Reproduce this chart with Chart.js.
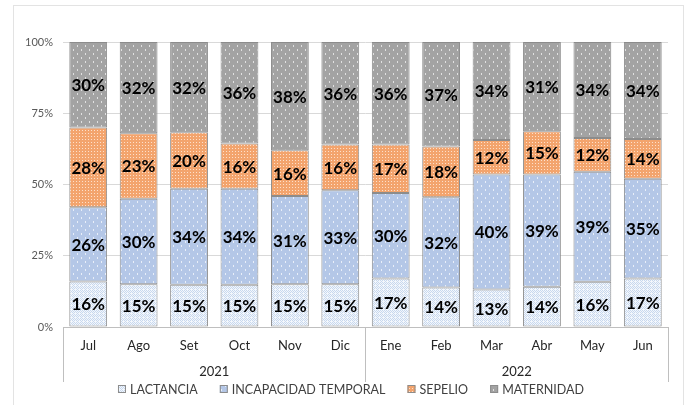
<!DOCTYPE html>
<html>
<head>
<meta charset="utf-8">
<script src="https://cdn.jsdelivr.net/npm/chart.js@4"></script>
<style>
  html, body { margin: 0; padding: 0; background: #fff; }
  #wrap { width: 689px; height: 405px; position: relative; }
</style>
</head>
<body>
<div id="wrap"><canvas id="chart" width="689" height="405"></canvas></div>
<script>
"use strict";

// months and year groups
const months = ['Jul', 'Ago', 'Set', 'Oct', 'Nov', 'Dic', 'Ene', 'Feb', 'Mar', 'Abr', 'May', 'Jun'];
const years = [
    { label: '2021', from: 0, to: 5 },
    { label: '2022', from: 6, to: 11 }
];

// shares in % (as printed on the bars)
const lactancia    = [16, 15, 15, 15, 15, 15, 17, 14, 13, 14, 16, 17];
const incapacidad  = [26, 30, 34, 34, 31, 33, 30, 32, 40, 39, 39, 35];
const sepelio      = [28, 23, 20, 16, 16, 16, 17, 18, 12, 15, 12, 14];
const maternidad   = [30, 32, 32, 36, 38, 36, 36, 37, 34, 31, 34, 34];

const seriesNames = ['LACTANCIA', 'INCAPACIDAD TEMPORAL', 'SEPELIO', 'MATERNIDAD'];

// little tiled patterns like the excel fills
const makePattern = (size, base, dots, dotColor) => {
    const c = document.createElement('canvas');
    c.width = size; c.height = size;
    const g = c.getContext('2d');
    g.fillStyle = base;
    g.fillRect(0, 0, size, size);
    g.fillStyle = dotColor;
    dots.forEach(d => g.fillRect(d[0], d[1], d[2] || 1, d[3] || 1));
    return g.createPattern(c, 'repeat');
};

const patLact = makePattern(4, '#f3f7fc', [[0, 0], [2, 0], [1, 1], [0, 2], [2, 2], [3, 3], [1, 3]], '#c8d8ee');
const patIncap = makePattern(8, '#b4c7e7', [[1, 1, 1, 2], [5, 5, 1, 2]], '#e8eef8');
const patSep = makePattern(3, '#f3a46d', [[1, 1]], '#fde0cb');
const patMat = makePattern(8, '#a3a3a3', [[1, 1, 1, 2], [5, 5, 1, 2]], '#e0e0e0');
const fills = [patLact, patIncap, patSep, patMat];
const raw = [lactancia, incapacidad, sepelio, maternidad];

// normalise each month to 100 so rounded shares still fill the bar
const totals = months.map((m, i) => raw.reduce((s, arr) => s + arr[i], 0));
const norm = arr => arr.map((v, i) => v * 100 / totals[i]);

const FONT = 'Lato, "Open Sans", sans-serif';

const extras = {
    id: 'extras',
    beforeDraw(chart) {
        const ctx = chart.ctx;
        ctx.save();
        ctx.strokeStyle = '#e3e3e3';
        ctx.lineWidth = 1;
        ctx.strokeRect(13.5, 5.5, 670, 420);
        ctx.restore();
    },
    afterDatasetsDraw(chart) {
        const ctx = chart.ctx;
        ctx.save();
        ctx.font = 'bold 17px ' + FONT;
        ctx.fillStyle = '#000';
        ctx.textAlign = 'center';
        ctx.textBaseline = 'middle';
        chart.data.datasets.forEach((ds, di) => {
            chart.getDatasetMeta(di).data.forEach((bar, i) => {
                ctx.fillText(raw[di][i] + '%', bar.x, (bar.y + bar.base) / 2 + 1);
            });
        });
        ctx.restore();
    },
    afterDraw(chart) {
        const ctx = chart.ctx;
        const x = chart.scales.x;
        const area = chart.chartArea;
        const half = (x.getPixelForValue(1) - x.getPixelForValue(0)) / 2;
        ctx.save();
        // group separators
        ctx.strokeStyle = '#bfbfbf';
        ctx.lineWidth = 1;
        const seps = [x.getPixelForValue(0) - half];
        years.forEach(y => seps.push(x.getPixelForValue(y.to) + half));
        seps.forEach(px => {
            ctx.beginPath();
            ctx.moveTo(Math.round(px) + 0.5, area.bottom);
            ctx.lineTo(Math.round(px) + 0.5, area.bottom + 55);
            ctx.stroke();
        });
        // year labels
        ctx.font = '13px ' + FONT;
        ctx.fillStyle = '#262626';
        ctx.textAlign = 'center';
        ctx.textBaseline = 'middle';
        years.forEach(y => {
            const cx = (x.getPixelForValue(y.from) + x.getPixelForValue(y.to)) / 2;
            ctx.fillText(y.label, cx, area.bottom + 45);
        });
        // legend
        ctx.font = '12.5px ' + FONT;
        ctx.textAlign = 'left';
        const box = 8, gapTxt = 4, gapItem = 22;
        const widths = seriesNames.map(n => box + gapTxt + ctx.measureText(n).width);
        const total = widths.reduce((a, b) => a + b, 0) + gapItem * (seriesNames.length - 1);
        let lx = 351 - total / 2;
        const ly = 389;
        seriesNames.forEach((n, i) => {
            ctx.fillStyle = fills[i];
            ctx.fillRect(lx, ly - box / 2, box, box);
            ctx.strokeStyle = '#8c8c8c';
            ctx.strokeRect(lx + 0.5, ly - box / 2 + 0.5, box - 1, box - 1);
            ctx.fillStyle = '#404040';
            ctx.fillText(n, lx + box + gapTxt, ly + 1);
            lx += widths[i] + gapItem;
        });
        ctx.restore();
    }
};

const canvas = document.getElementById('chart');
new Chart(canvas.getContext('2d'), {
    type: 'bar',
    data: {
        labels: months,
        datasets: seriesNames.map((name, i) => ({
            label: name,
            data: norm(raw[i]),
            backgroundColor: fills[i],
            borderColor: '#8c8c8c',
            borderWidth: 1,
            borderSkipped: false,
            barPercentage: 0.75,
            categoryPercentage: 1
        }))
    },
    options: {
        responsive: false,
        animation: false,
        layout: { padding: { left: 0, top: 42, right: 21, bottom: 0 } },
        plugins: {
            legend: { display: false },
            tooltip: { enabled: false }
        },
        scales: {
            x: {
                stacked: true,
                afterFit: s => { s.height = 78; },
                grid: { display: false, drawTicks: false },
                border: { color: '#bfbfbf' },
                ticks: { color: '#262626', font: { family: FONT, size: 13 }, padding: 11 }
            },
            y: {
                stacked: true,
                min: 0,
                max: 100,
                afterFit: s => { s.width = 63; },
                grid: { color: '#d9d9d9', drawTicks: false },
                border: { display: false },
                ticks: {
                    stepSize: 25,
                    padding: 10,
                    color: '#595959',
                    font: { family: FONT, size: 11 },
                    callback: v => v + '%'
                }
            }
        }
    },
    plugins: [extras]
});
</script>
</body>
</html>
